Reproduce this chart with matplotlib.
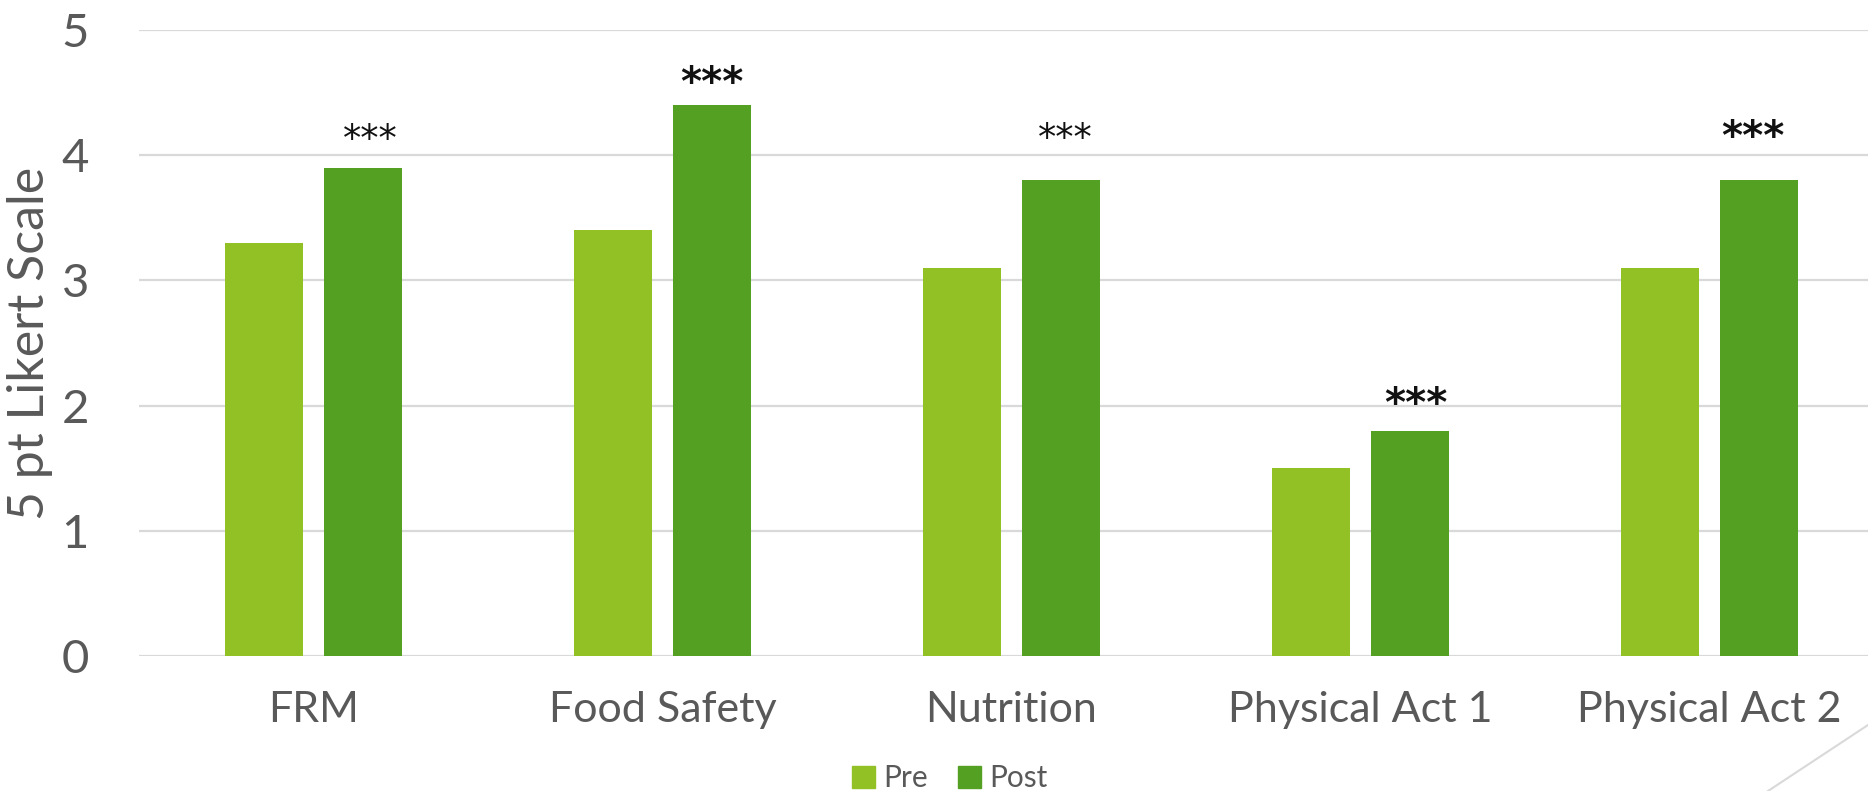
import matplotlib
matplotlib.use("Agg")
import matplotlib.pyplot as plt
from matplotlib.lines import Line2D
from matplotlib.patches import Patch
from matplotlib import font_manager
import numpy as np

categories = ["FRM", "Food Safety", "Nutrition", "Physical Act 1", "Physical Act 2"]
pre = [3.3, 3.4, 3.1, 1.5, 3.1]
post = [3.9, 4.4, 3.8, 1.8, 3.8]
stars = ["***", "***", "***", "***", "***"]
star_big = [False, True, False, True, True]
series_names = ["Pre", "Post"]
yticks = [0, 1, 2, 3, 4, 5]

plt.rcParams['font.family'] = ['Lato', 'DejaVu Sans']
installed = {f.name for f in font_manager.fontManager.ttflist}
label_family = ['Liberation Sans Narrow', 'Lato'] if 'Liberation Sans Narrow' in installed else ['Lato']

W, H = 1868, 791
DPI = 100
fig = plt.figure(figsize=(W / DPI, H / DPI), dpi=DPI)
left = 139 / W
right = 1884 / W
bottom = 1 - 656 / H
top = 1 - 30 / H
ax = fig.add_axes([left, bottom, right - left, top - bottom])
px_per_unit = (656 - 30) / 5.0

pre_c = "#92C126"
post_c = "#54A023"
x = np.arange(len(categories))
bw = 0.225
off = 0.142
ax.bar(x - off, pre, width=bw, color=pre_c, zorder=3)
ax.bar(x + off, post, width=bw, color=post_c, zorder=3)

# annotation placement (ink-centre offset above bar in data units, x shift in px)
star_dy = [0.26, 0.22, 0.37, 0.26, 0.39]
star_dx = [7, 0, 4, 6, -6]
for i, (v, s, big) in enumerate(zip(post, stars, star_big)):
    fs = 29 if big else 26.5
    fpx = fs * DPI / 72
    y = v + star_dy[i] - 0.66 * fpx / px_per_unit
    ax.annotate(s, xy=(x[i] + off, y), xytext=(star_dx[i] * 72 / DPI, 0),
                textcoords="offset points", ha="center", va="bottom",
                fontsize=fs, fontweight="bold" if big else "normal",
                color="#111111", family="DejaVu Sans", zorder=4)

ax.set_xlim(-0.5, len(categories) - 0.5)
ax.set_ylim(0, 5)
ax.set_yticks(yticks)
ax.set_yticklabels([str(t) for t in yticks])
ax.set_xticks(x)
ax.set_xticklabels(categories)
ax.grid(axis="y", color="#D9D9D9", linewidth=1.6, zorder=0)
ax.set_axisbelow(True)
for sp in ax.spines.values():
    sp.set_visible(False)
ax.tick_params(axis="y", length=0, pad=36, labelsize=34, labelcolor="#595959")
ax.tick_params(axis="x", length=0, pad=25, labelsize=31, labelcolor="#595959")
ax.set_ylabel("5 pt Likert Scale", fontsize=38 if label_family[0] != 'Lato' else 36,
              color="#595959", family=label_family)
ax.yaxis.label.set_va("center")
ax.yaxis.set_label_coords(-(139 - 30) / (1884 - 139), 0.5)

handles = [Patch(color=pre_c), Patch(color=post_c)]
fig.legend(handles, series_names, loc="center", bbox_to_anchor=(950 / W, 1 - 778 / H),
           ncol=2, frameon=False, fontsize=21.5, handlelength=0.75, handleheight=0.75,
           handletextpad=0.3, columnspacing=1.0, labelcolor="#595959")

fig.add_artist(Line2D([1768 / W, 1.0], [0.0, 1 - 725 / H], transform=fig.transFigure,
                      color="#D9D9D9", linewidth=1.5))

fig.savefig("out.png", dpi=DPI)
